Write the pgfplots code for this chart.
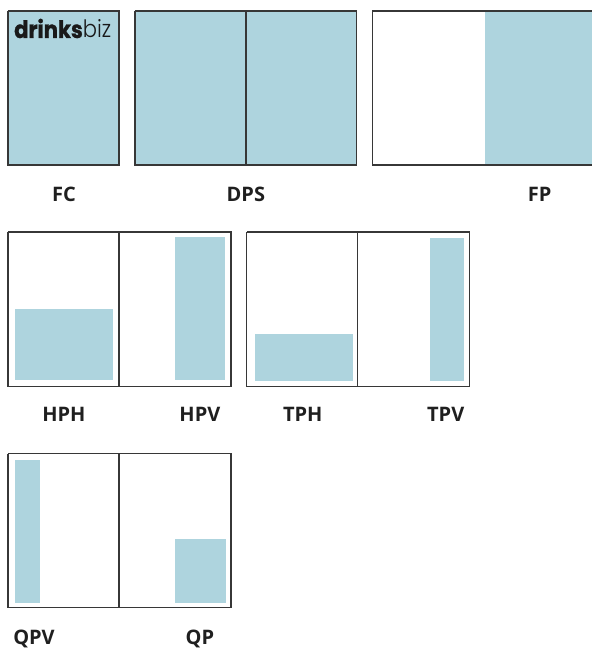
\documentclass[border=0pt]{standalone}
\usepackage{pgfplots}
\pgfplotsset{compat=1.18}
\usepackage{fontspec}
\setmainfont{Open Sans}
\newfontfamily\logofont{Poppins}[BoldFeatures={FakeBold=1.2}]
\definecolor{adblue}{RGB}{174,212,222}
\definecolor{edge}{RGB}{55,55,55}

\begin{document}
\begin{tikzpicture}
\begin{axis}[
    width=592pt, height=648pt, scale only axis,
    xmin=0, xmax=592, ymin=0, ymax=648,
    y dir=reverse,
    hide axis,
    clip=false,
    every axis plot/.append style={line width=1.3pt, mark=none},
]
% frame of the page, invisible
\addplot[draw=none] coordinates {(0,0) (592,648)};

% ---- fills
\addplot[fill=adblue, draw=none] coordinates {(8,11) (119,11) (119,165) (8,165)};      % FC
\addplot[fill=adblue, draw=none] coordinates {(135,11) (357,11) (357,165) (135,165)};  % DPS
\addplot[fill=adblue, draw=none] coordinates {(485,11) (592,11) (592,165) (485,165)};  % FP
\addplot[fill=adblue, draw=none] coordinates {(15,309) (113,309) (113,380) (15,380)};  % HPH
\addplot[fill=adblue, draw=none] coordinates {(175,237) (225,237) (225,380) (175,380)}; % HPV
\addplot[fill=adblue, draw=none] coordinates {(255,334) (353,334) (353,381) (255,381)}; % TPH
\addplot[fill=adblue, draw=none] coordinates {(430,238) (464,238) (464,381) (430,381)}; % TPV
\addplot[fill=adblue, draw=none] coordinates {(15,460) (40,460) (40,603) (15,603)};    % QPV
\addplot[fill=adblue, draw=none] coordinates {(175,539) (226,539) (226,603) (175,603)}; % QP

% ---- page outlines
\addplot[edge] coordinates {(8,11) (119,11) (119,165) (8,165) (8,11)};
\addplot[edge] coordinates {(135,11) (357,11) (357,165) (135,165) (135,11)};
\addplot[edge] coordinates {(246,11) (246,165)};
\addplot[edge] coordinates {(592,11) (373,11) (373,165) (592,165)};

\addplot[edge] coordinates {(8,232) (231,232) (231,387) (8,387) (8,232)};
\addplot[edge] coordinates {(119,232) (119,387)};
\addplot[edge] coordinates {(247,232) (470,232) (470,387) (247,387) (247,232)};
\addplot[edge] coordinates {(358,232) (358,387)};

\addplot[edge] coordinates {(8,454) (231,454) (231,608) (8,608) (8,454)};
\addplot[edge] coordinates {(119,454) (119,608)};

% ---- logo
\node[anchor=base west, inner sep=0pt, text=black!90] at (axis cs:14,38)
    {\scalebox{0.88}[1]{\fontsize{24}{24}\selectfont\logofont\textbf{drinks}{\fontspec{Poppins Light}biz}}};

% ---- labels
\tikzset{lab/.style={anchor=base, inner sep=0pt, text=black!88, font=\fontsize{20}{24}\selectfont\bfseries}}
\node[lab] at (axis cs:64,202) {FC};
\node[lab] at (axis cs:246,202) {DPS};
\node[lab] at (axis cs:540,202) {FP};
\node[lab] at (axis cs:64,422) {HPH};
\node[lab] at (axis cs:200,422) {HPV};
\node[lab] at (axis cs:303,422) {TPH};
\node[lab] at (axis cs:446,422) {TPV};
\node[lab] at (axis cs:34,645) {QPV};
\node[lab] at (axis cs:200,645) {QP};
\end{axis}
\end{tikzpicture}
\end{document}
